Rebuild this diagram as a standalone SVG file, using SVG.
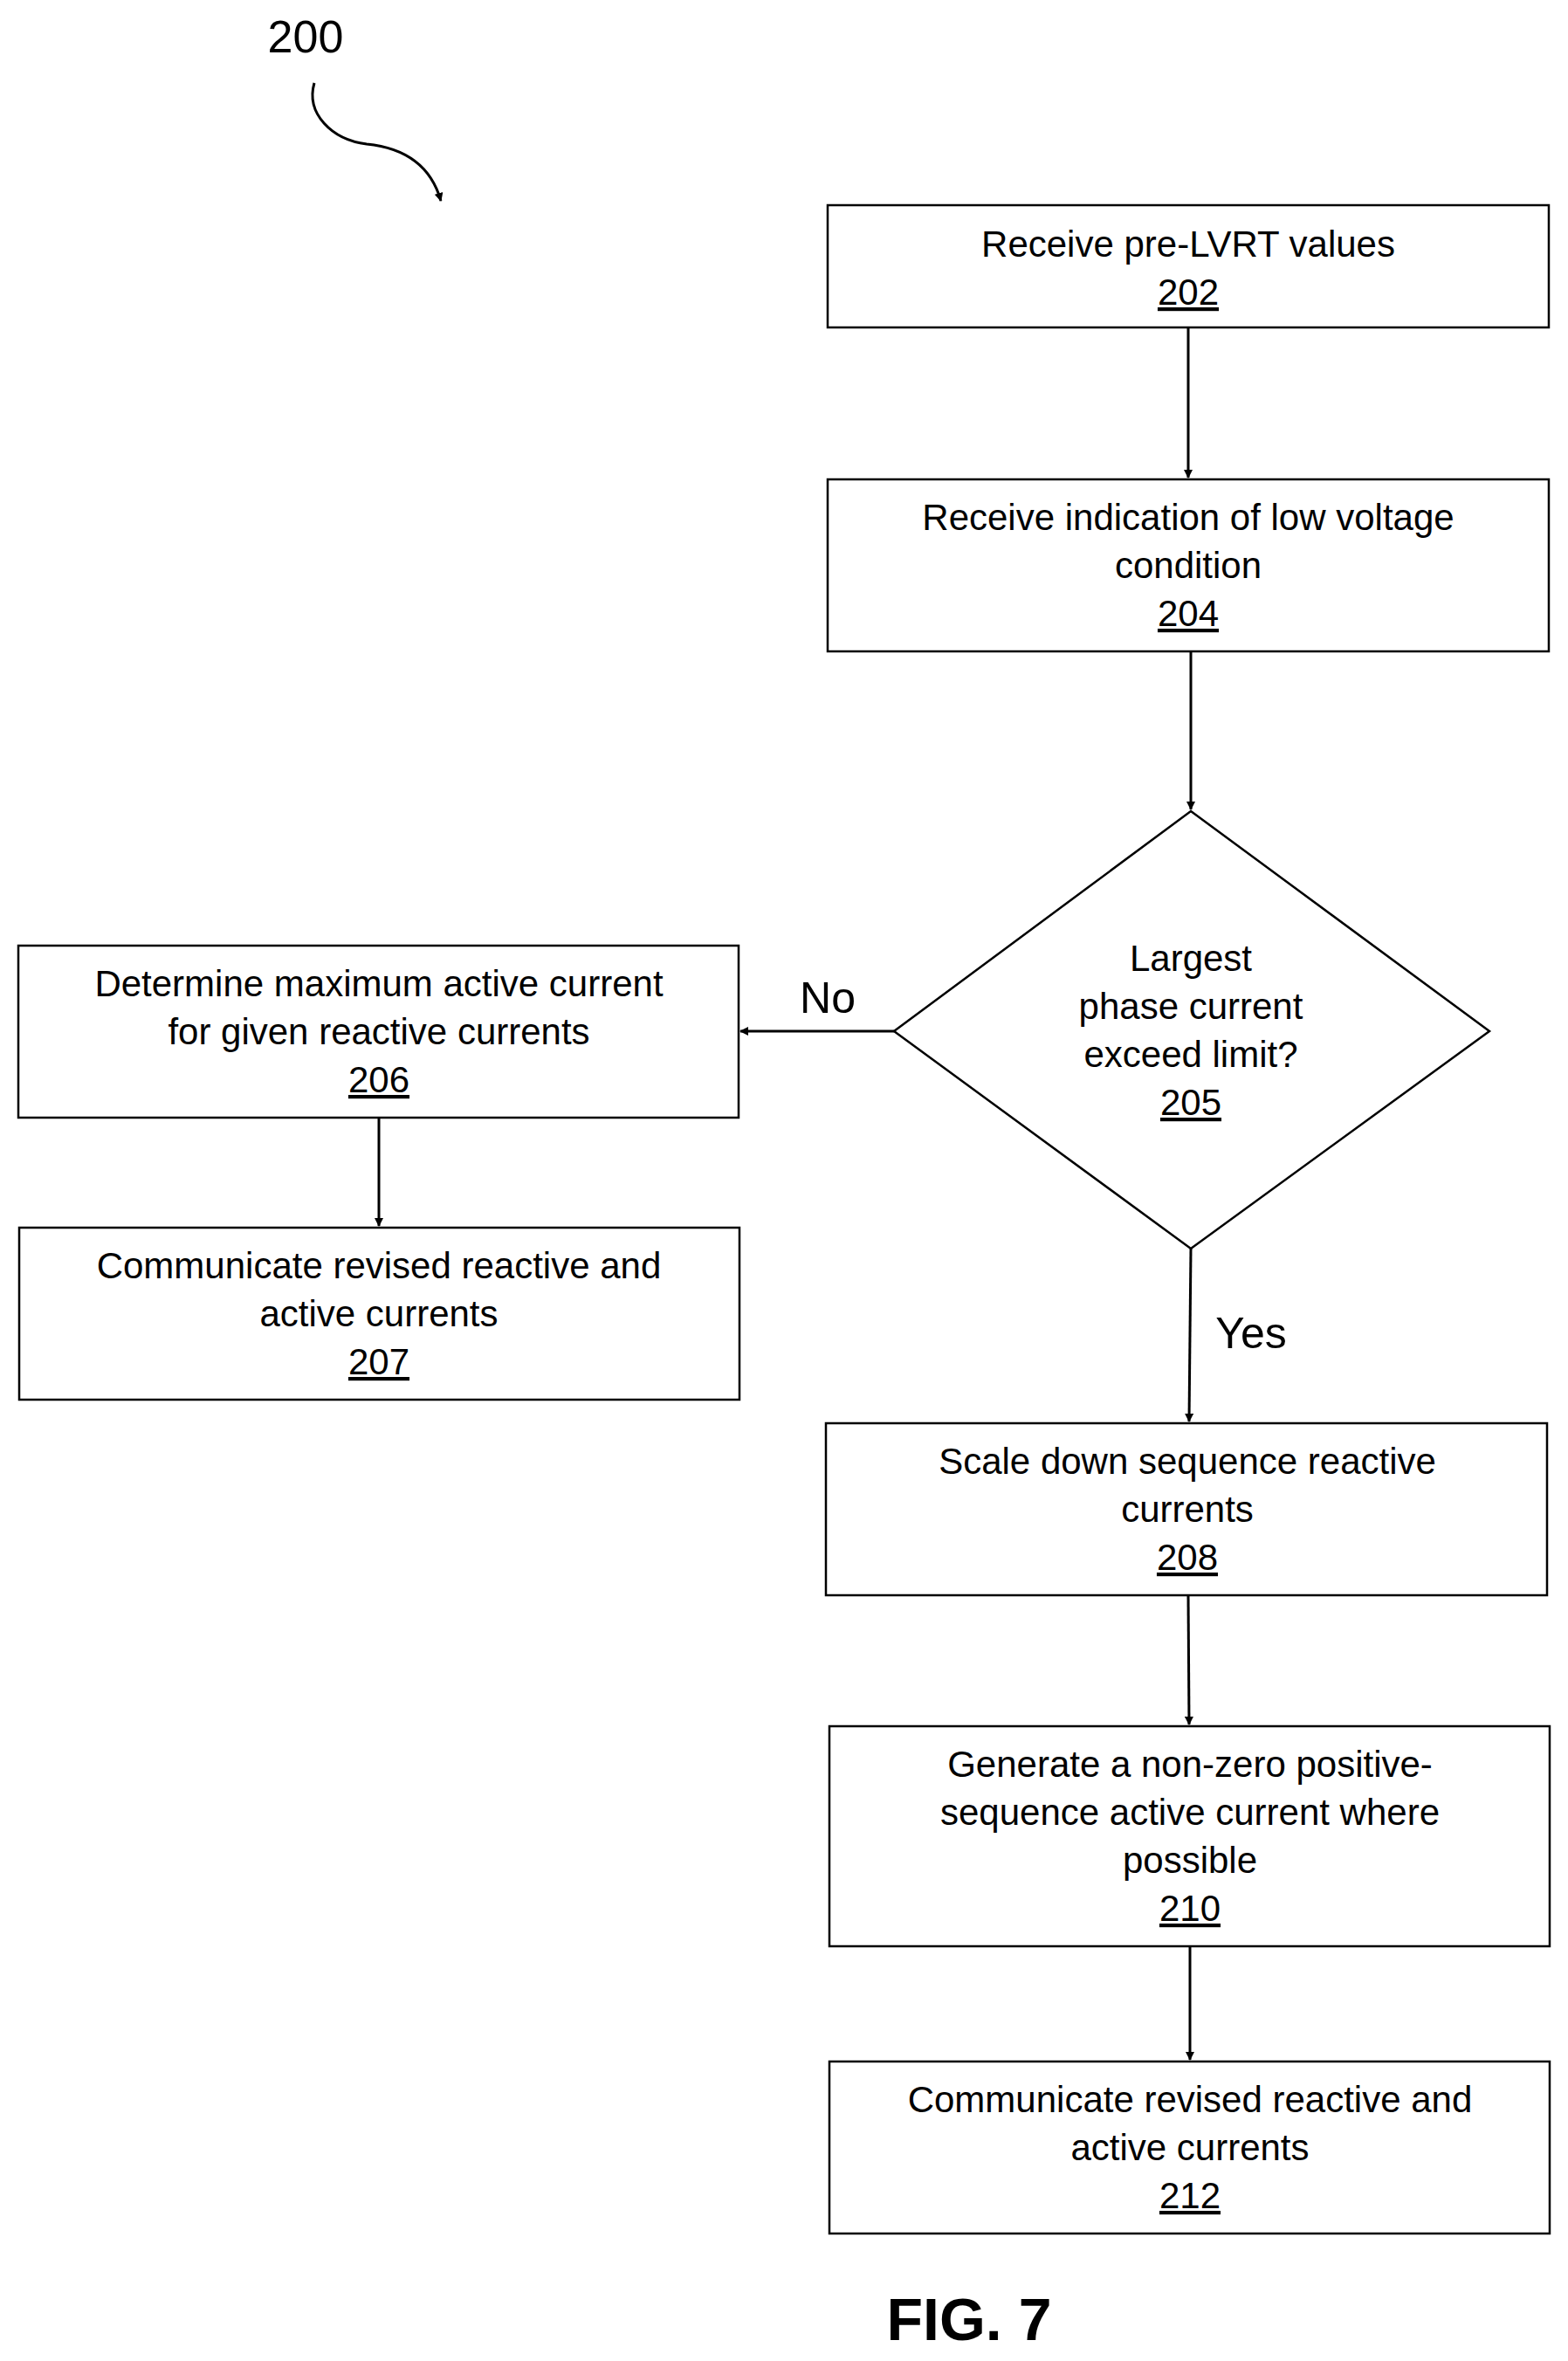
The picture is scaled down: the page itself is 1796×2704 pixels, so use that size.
<svg xmlns="http://www.w3.org/2000/svg" width="1796" height="2704" viewBox="0 0 1796 2704">
<defs>
<style>
.b{fill:#fff;stroke:#000;stroke-width:2.5}
text{font-family:"Liberation Sans",Arial,sans-serif;font-size:42px;text-anchor:middle;fill:#000}
.n{text-decoration:underline}
.c{stroke:#000;stroke-width:3;fill:none}
</style>
<marker id="a" markerWidth="10" markerHeight="10" refX="9" refY="5" orient="auto" markerUnits="userSpaceOnUse" viewBox="0 0 10 10"><path d="M0,0L10,5L0,10z"/></marker>
</defs>
<rect width="1796" height="2704" fill="#fff"/>
<text x="350" y="60" style="font-size:52px">200</text>
<path class="c" d="M360,95 C350,130 380,160 420,165 C470,170 495,195 505,230" marker-end="url(#a)" style="stroke-width:3"/>
<g id="n202"><rect class="b" x="948" y="235" width="826" height="140"/><text x="1361" y="294">Receive pre-LVRT values</text><text class="n" x="1361" y="349">202</text></g>
<g id="n204"><rect class="b" x="948" y="549" width="826" height="197"/><text x="1361" y="607">Receive indication of low voltage</text><text x="1361" y="662">condition</text><text class="n" x="1361" y="717">204</text></g>
<g id="n205"><polygon class="b" points="1364,929 1706,1181 1364,1430 1024,1181"/><text x="1364" y="1112">Largest</text><text x="1364" y="1167">phase current</text><text x="1364" y="1222">exceed limit?</text><text class="n" x="1364" y="1277">205</text></g>
<g id="n206"><rect class="b" x="21" y="1083" width="825" height="197"/><text x="434" y="1141">Determine maximum active current</text><text x="434" y="1196">for given reactive currents</text><text class="n" x="434" y="1251">206</text></g>
<g id="n207"><rect class="b" x="22" y="1406" width="825" height="197"/><text x="434" y="1464">Communicate revised reactive and</text><text x="434" y="1519">active currents</text><text class="n" x="434" y="1574">207</text></g>
<g id="n208"><rect class="b" x="946" y="1630" width="826" height="197"/><text x="1360" y="1688">Scale down sequence reactive</text><text x="1360" y="1743">currents</text><text class="n" x="1360" y="1798">208</text></g>
<g id="n210"><rect class="b" x="950" y="1977" width="825" height="252"/><text x="1363" y="2035">Generate a non-zero positive-</text><text x="1363" y="2090">sequence active current where</text><text x="1363" y="2145">possible</text><text class="n" x="1363" y="2200">210</text></g>
<g id="n212"><rect class="b" x="950" y="2361" width="825" height="197"/><text x="1363" y="2419">Communicate revised reactive and</text><text x="1363" y="2474">active currents</text><text class="n" x="1363" y="2529">212</text></g>
<g id="connectors">
<line class="c" x1="1361" y1="375" x2="1361" y2="547" marker-end="url(#a)"/>
<line class="c" x1="1364" y1="746" x2="1364" y2="927" marker-end="url(#a)"/>
<line class="c" x1="1024" y1="1181" x2="848" y2="1181" marker-end="url(#a)"/>
<line class="c" x1="434" y1="1280" x2="434" y2="1404" marker-end="url(#a)"/>
<line class="c" x1="1364" y1="1430" x2="1362" y2="1628" marker-end="url(#a)"/>
<line class="c" x1="1361" y1="1827" x2="1362" y2="1975" marker-end="url(#a)"/>
<line class="c" x1="1363" y1="2229" x2="1363" y2="2359" marker-end="url(#a)"/>
<text x="948" y="1160" style="font-size:50px">No</text>
<text x="1433" y="1544" style="font-size:50px">Yes</text>
</g>
<text x="1110" y="2680" style="font-size:68px;font-weight:bold">FIG. 7</text>
</svg>
